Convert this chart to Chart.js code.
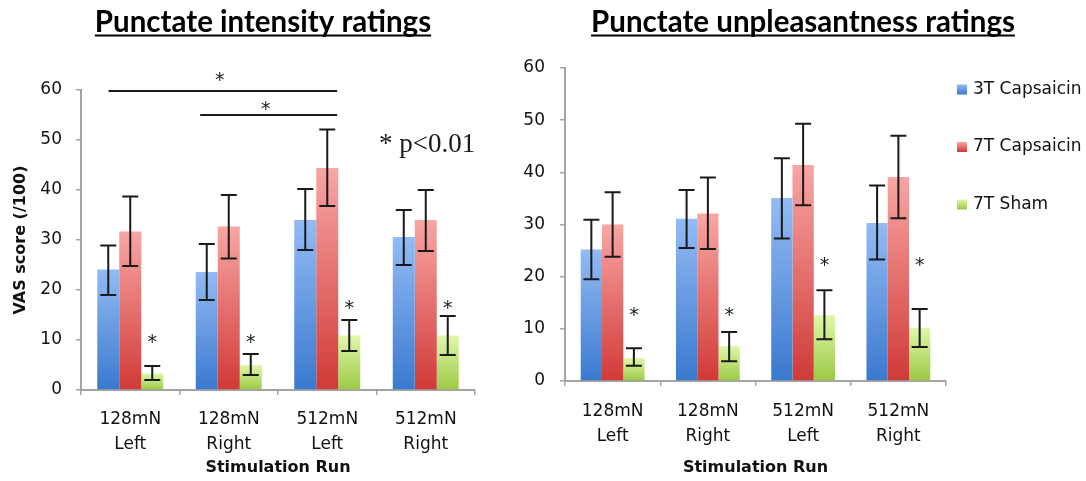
<!DOCTYPE html>
<html>
<head>
<meta charset="utf-8">
<script src="https://cdn.jsdelivr.net/npm/chart.js@4.4.1/dist/chart.umd.min.js"></script>
<style>
  html, body { margin: 0; padding: 0; background: #fff; }
  #wrap { position: relative; width: 1086px; height: 481px; }
  canvas { position: absolute; top: 0; }
  #left { left: 0; }
  #right { left: 515px; }
</style>
</head>
<body>
<div id="wrap">
  <canvas id="left" width="515" height="481"></canvas>
  <canvas id="right" width="571" height="481"></canvas>
</div>
<script>
// categories / series
const categories = [["128mN", "Left"], ["128mN", "Right"], ["512mN", "Left"], ["512mN", "Right"]];
const seriesNames = ["3T Capsaicin", "7T Capsaicin", "7T Sham"];
const yTickValues = [0, 10, 20, 30, 40, 50, 60];

// Punctate intensity ratings (mean, error bar low/high)
const intensity3T = [24.1, 23.6, 34.0, 30.6];
const intensity3TLow = [19.0, 18.0, 28.0, 25.0];
const intensity3THigh = [28.9, 29.2, 40.2, 36.0];
const intensity7T = [31.7, 32.7, 44.4, 34.0];
const intensity7TLow = [24.8, 26.3, 36.8, 27.8];
const intensity7THigh = [38.7, 39.0, 52.1, 40.0];
const intensitySham = [3.3, 5.0, 10.9, 10.9];
const intensityShamLow = [2.0, 3.0, 7.8, 7.0];
const intensityShamHigh = [4.8, 7.2, 14.0, 14.8];
const intensityStarY = [10.6, 10.6, 17.5, 17.5];
// significance brackets (category units / value units)
const intensityBracketFrom = [-0.22, 0.71];
const intensityBracketTo = [2.1, 2.1];
const intensityBracketY = [59.8, 55.0];
const intensityBracketStarY = [63.0, 57.3];

// Punctate unpleasantness ratings
const unpleasant3T = [25.2, 31.1, 35.1, 30.3];
const unpleasant3TLow = [19.5, 25.5, 27.3, 23.3];
const unpleasant3THigh = [30.9, 36.6, 42.7, 37.5];
const unpleasant7T = [30.0, 32.1, 41.4, 39.1];
const unpleasant7TLow = [23.8, 25.3, 33.7, 31.2];
const unpleasant7THigh = [36.2, 39.0, 49.3, 47.0];
const unpleasantSham = [4.4, 6.7, 12.6, 10.2];
const unpleasantShamLow = [2.9, 3.8, 8.0, 6.5];
const unpleasantShamHigh = [6.3, 9.4, 17.4, 13.8];
const unpleasantStarY = [13.6, 13.6, 23.2, 23.2];

const barTop = ["#93bbf4", "#f8a6a4", "#e1f7ab"];
const barBottom = ["#3a79cf", "#d03a37", "#9bc943"];
const axisGrey = "#a3a3a3";
const textColor = "#111";
const tickFont = { family: "DejaVu Sans", size: 17, lineHeight: 1.47 };
const axisTitleFont = { family: "DejaVu Sans", size: 16, weight: "bold" };

function barFill(i) {
    return (c) => {
        const chart = c.chart;
        if (!chart.chartArea || c.type !== "data") return barBottom[i];
        const y = chart.scales.y;
        const top = y.getPixelForValue(c.raw), base = y.getPixelForValue(0);
        if (!(base > top)) return barBottom[i];
        const g = chart.ctx.createLinearGradient(0, top, 0, base);
        g.addColorStop(0, barTop[i]);
        g.addColorStop(1, barBottom[i]);
        return g;
    };
}

function makeDatasets(values, lows, highs) {
    return values.map((v, i) => ({
        label: seriesNames[i],
        data: v,
        errLow: lows[i],
        errHigh: highs[i],
        backgroundColor: barFill(i),
        borderWidth: 0,
        categoryPercentage: 0.67,
        barPercentage: 1.0
    }));
}

function drawStar(ctx, x, cy, size) {
    ctx.font = size + "px 'DejaVu Sans'";
    ctx.textAlign = "center";
    ctx.textBaseline = "alphabetic";
    ctx.fillText("*", x, cy + size * 0.58);
}

// all the extra drawing: titles, error bars, asterisks, brackets, legend
function decor(o) {
    return {
        id: "decor",
        afterDatasetsDraw(chart) {
            const { ctx, scales: { x, y }, chartArea } = chart;
            ctx.save();
            ctx.strokeStyle = "#1a1a1a";
            ctx.fillStyle = "#1a1a1a";
            ctx.lineWidth = 2;

            // error bars
            chart.data.datasets.forEach((ds, d) => {
                chart.getDatasetMeta(d).data.forEach((bar, i) => {
                    const yl = y.getPixelForValue(ds.errLow[i]);
                    const yh = y.getPixelForValue(ds.errHigh[i]);
                    ctx.beginPath();
                    ctx.moveTo(bar.x, yl); ctx.lineTo(bar.x, yh);
                    ctx.moveTo(bar.x - 8, yl); ctx.lineTo(bar.x + 8, yl);
                    ctx.moveTo(bar.x - 8, yh); ctx.lineTo(bar.x + 8, yh);
                    ctx.stroke();
                });
            });

            // asterisks over sham bars
            const shamMeta = chart.getDatasetMeta(2);
            o.starY.forEach((v, i) => drawStar(ctx, shamMeta.data[i].x, y.getPixelForValue(v), 19));

            // brackets
            (o.bracketY || []).forEach((v, k) => {
                const x0 = x.getPixelForValue(o.bracketFrom[k]);
                const x1 = x.getPixelForValue(o.bracketTo[k]);
                const py = y.getPixelForValue(v);
                ctx.beginPath();
                ctx.moveTo(x0, py); ctx.lineTo(x1, py);
                ctx.stroke();
                drawStar(ctx, (x0 + x1) / 2 - 3, y.getPixelForValue(o.bracketStarY[k]), 19);
            });

            // p-value note
            if (o.pLabel) {
                ctx.font = "27px 'Liberation Serif'";
                ctx.textAlign = "left";
                ctx.textBaseline = "alphabetic";
                ctx.fillText(o.pLabel, x.getPixelForValue(2.525), y.getPixelForValue(47.6));
            }

            // legend
            if (o.legend) {
                chart.data.datasets.forEach((ds, d) => {
                    const cy = chartArea.top + 21.5 + d * 57.5;
                    const sx = chartArea.right + 11;
                    const g = ctx.createLinearGradient(0, cy - 5, 0, cy + 5);
                    g.addColorStop(0, barTop[d]);
                    g.addColorStop(1, barBottom[d]);
                    ctx.fillStyle = g;
                    ctx.fillRect(sx, cy - 5, 10, 10);
                    ctx.fillStyle = textColor;
                    ctx.font = "17px 'DejaVu Sans'";
                    ctx.textAlign = "left";
                    ctx.textBaseline = "middle";
                    ctx.fillText(ds.label, sx + 16, cy);
                });
            }

            // underlined title
            ctx.fillStyle = "#000";
            ctx.font = "bold 29.5px Lato";
            ctx.textAlign = "center";
            ctx.textBaseline = "alphabetic";
            ctx.fillText(o.title, o.titleX, 32);
            const w = ctx.measureText(o.title).width;
            ctx.fillRect(o.titleX - w / 2, 34.5, w, 2);
            ctx.restore();
        }
    };
}

function makeChart(id, datasets, o) {
    return new Chart(document.getElementById(id), {
        type: "bar",
        data: { labels: categories, datasets: datasets },
        options: {
            responsive: false,
            animation: false,
            layout: { padding: { top: o.top, right: o.right, left: 0, bottom: 0 } },
            plugins: { legend: { display: false }, tooltip: { enabled: false } },
            scales: {
                x: {
                    grid: { drawOnChartArea: false, drawTicks: true, tickLength: 5, color: axisGrey, lineWidth: 1.5, offset: true },
                    border: { color: axisGrey, width: 2 },
                    ticks: { font: tickFont, color: textColor, padding: o.xPad, maxRotation: 0, autoSkip: false },
                    title: { display: true, text: "Stimulation Run", color: textColor, font: axisTitleFont, padding: { top: 0, bottom: 4 } },
                    afterFit: (s) => { s.height = o.xHeight; }
                },
                y: {
                    min: 0, max: 60,
                    afterBuildTicks: (s) => { s.ticks = yTickValues.map(v => ({ value: v })); },
                    grid: { drawOnChartArea: false, drawTicks: true, tickLength: 5, color: axisGrey, lineWidth: 1.5 },
                    border: { color: axisGrey, width: 2 },
                    ticks: { font: { family: "DejaVu Sans", size: 17 }, color: textColor, padding: o.yPad },
                    title: { display: !!o.yTitle, text: o.yTitle || "", color: textColor, font: axisTitleFont, padding: { top: 11, bottom: 0 } },
                    afterFit: (s) => { s.width = o.yWidth; }
                }
            }
        },
        plugins: [decor(o)]
    });
}

makeChart("left",
    makeDatasets([intensity3T, intensity7T, intensitySham],
        [intensity3TLow, intensity7TLow, intensityShamLow],
        [intensity3THigh, intensity7THigh, intensityShamHigh]),
    {
        top: 90, right: 40, yWidth: 81, xHeight: 91, xPad: 12, yPad: 14,
        yTitle: "VAS score (/100)",
        title: "Punctate intensity ratings", titleX: 263,
        starY: intensityStarY,
        bracketFrom: intensityBracketFrom, bracketTo: intensityBracketTo,
        bracketY: intensityBracketY, bracketStarY: intensityBracketStarY,
        pLabel: "* p<0.01"
    });

makeChart("right",
    makeDatasets([unpleasant3T, unpleasant7T, unpleasantSham],
        [unpleasant3TLow, unpleasant7TLow, unpleasantShamLow],
        [unpleasant3THigh, unpleasant7THigh, unpleasantShamHigh]),
    {
        top: 68, right: 140, yWidth: 50, xHeight: 100, xPad: 13, yPad: 15,
        title: "Punctate unpleasantness ratings", titleX: 288,
        starY: unpleasantStarY,
        legend: true
    });
</script>
</body>
</html>
